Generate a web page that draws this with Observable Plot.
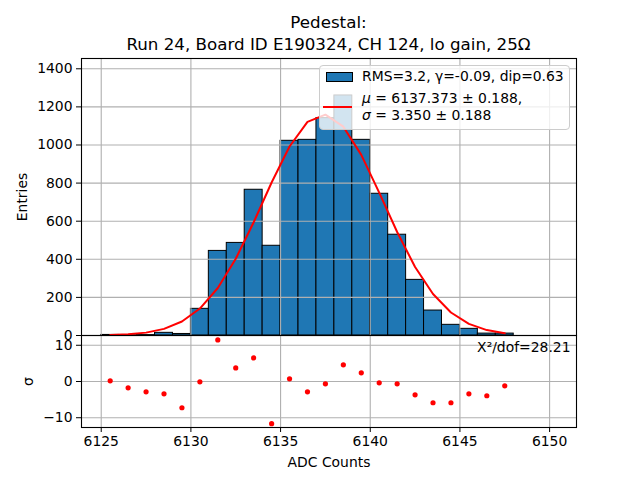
<!DOCTYPE html>
<html><head><meta charset="utf-8">
<script src="https://cdn.jsdelivr.net/npm/d3@7"></script>
<script src="https://cdn.jsdelivr.net/npm/@observablehq/plot@0.6"></script>
<style>
body{margin:0;background:white;font-family:"DejaVu Sans",sans-serif;}
#wrap{position:relative;width:640px;height:480px;overflow:hidden;background:white;}
#wrap svg{position:absolute;left:0;}
.title{position:absolute;left:81px;width:495px;text-align:center;font-size:16.7px;line-height:22px;top:11px;color:#000;}
.legend{position:absolute;left:319px;top:65px;width:251px;height:65px;background:rgba(255,255,255,0.8);border:1px solid #cccccc;border-radius:4px;box-sizing:border-box;z-index:5;font-size:13.9px;color:#000;}
.legend div{position:absolute;white-space:nowrap;}
.patch{left:6px;top:6px;width:27px;height:10px;background:#1f77b4;border:1px solid #000;box-sizing:border-box;}
.rline{left:3px;top:40px;width:29px;height:2px;background:red;}
.t1{left:42px;top:2px;line-height:17px;}
.t2{left:42px;top:24px;line-height:17.4px;}
</style>
</head><body>
<div id="wrap">
  <div class="title">Pedestal:<br>Run 24, Board ID E190324, CH 124, lo gain, 25Ω</div>
  <div class="legend">
    <div class="patch"></div>
    <div class="t1">RMS=3.2, γ=-0.09, dip=0.63</div>
    <div class="rline"></div>
    <div class="t2"><i>μ</i> = 6137.373 ± 0.188,<br><i>σ</i> = 3.350 ± 0.188</div>
  </div>
</div>
<script>
// Histogram bins (left edge, width 1 ADC count)
const binStart = [6125,6126,6127,6128,6129,6130,6131,6132,6133,6134,6135,6136,6137,6138,6139,6140,6141,6142,6143,6144,6145,6146,6147];
const entries  = [3,1,2,14,8,140,444,486,765,471,1022,1027,1141,1260,1027,744,529,292,131,56,35,10,10];
// Fit curve sampled at bin centres
const fitX = [6125.5,6126.5,6127.5,6128.5,6129.5,6130.5,6131.5,6132.5,6133.5,6134.5,6135.5,6136.5,6137.5,6138.5,6139.5,6140.5,6141.5,6142.5,6143.5,6144.5,6145.5,6146.5,6147.5];
const fitY = [2.2,6.0,15.1,34.8,73.3,141.4,249.4,402.6,594.6,803.1,992.2,1121.3,1159.2,1096.2,948.2,750.3,543.1,359.6,217.8,120.8,61.2,28.4,12.0];
// Residuals (sigma)
const residuals = [0.18,-1.74,-2.84,-3.39,-7.25,-0.09,11.47,3.76,6.51,-11.65,0.73,-2.84,-0.64,4.59,2.39,-0.37,-0.64,-3.67,-5.87,-5.87,-3.39,-3.94,-1.19];
// Ticks
const xTicks = [6125,6130,6135,6140,6145,6150];
const yTicks = [0,200,400,600,800,1000,1200,1400];
const resTicks = [-10,0,10];
const chi2Label = ["X²/dof=28.21"];

const bins = binStart.map((b,i)=>({x1:b, x2:b+1, n:entries[i]}));
const fit = fitX.map((x,i)=>({x, y:fitY[i]}));
const res = fitX.map((x,i)=>({x, r:residuals[i]}));

const xDomain = [6123.9, 6151.5];
const gridStyle = {stroke:"#b0b0b0", strokeOpacity:1, strokeWidth:1.1};
const style = {background:"transparent", fontFamily:"DejaVu Sans", fontSize:"13.9px", color:"black", overflow:"visible"};

const topPlot = Plot.plot({
  width:640, height:336, marginTop:58, marginBottom:1, marginLeft:81, marginRight:64,
  style,
  x:{domain:xDomain, axis:null},
  y:{domain:[0,1454], ticks:yTicks, tickSize:5, tickPadding:4, tickFormat:d3.format("d"),
     label:"Entries", labelAnchor:"center", labelOffset:64, labelArrow:"none"},
  marks:[
    Plot.rectY(bins, {x1:"x1", x2:"x2", y:"n", fill:"#1f77b4", stroke:"black", strokeWidth:1}),
    Plot.gridX(xTicks, gridStyle),
    Plot.gridY(yTicks, gridStyle),
    Plot.line(fit, {x:"x", y:"y", stroke:"red", strokeWidth:2}),
    Plot.frame({stroke:"black", strokeWidth:1.1})
  ]
});
topPlot.style.top = "0px";

const botPlot = Plot.plot({
  width:640, height:150, marginTop:5, marginBottom:53, marginLeft:81, marginRight:64,
  style,
  x:{domain:xDomain, ticks:xTicks, tickSize:5, tickPadding:4, tickFormat:d3.format("d"),
     label:"ADC Counts", labelAnchor:"center", labelOffset:39, labelArrow:"none"},
  y:{domain:[-12.7,12.7], ticks:resTicks, tickSize:5, tickPadding:4, tickFormat:d3.format("d"),
     label:"σ", labelAnchor:"center", labelOffset:58, labelArrow:"none"},
  marks:[
    Plot.gridX(xTicks, gridStyle),
    Plot.gridY(resTicks, gridStyle),
    Plot.dot(res, {x:"x", y:"r", r:2.6, fill:"red", stroke:null}),
    Plot.text(chi2Label, {text:d=>d, frameAnchor:"top-right", dx:-6, dy:7, lineAnchor:"top", textAnchor:"end", fontSize:13.9, fill:"black"}),
    Plot.frame({stroke:"black", strokeWidth:1.1})
  ]
});
botPlot.style.top = "330px";

const wrap = document.getElementById("wrap");
wrap.appendChild(topPlot);
wrap.appendChild(botPlot);
</script>
</body></html>
